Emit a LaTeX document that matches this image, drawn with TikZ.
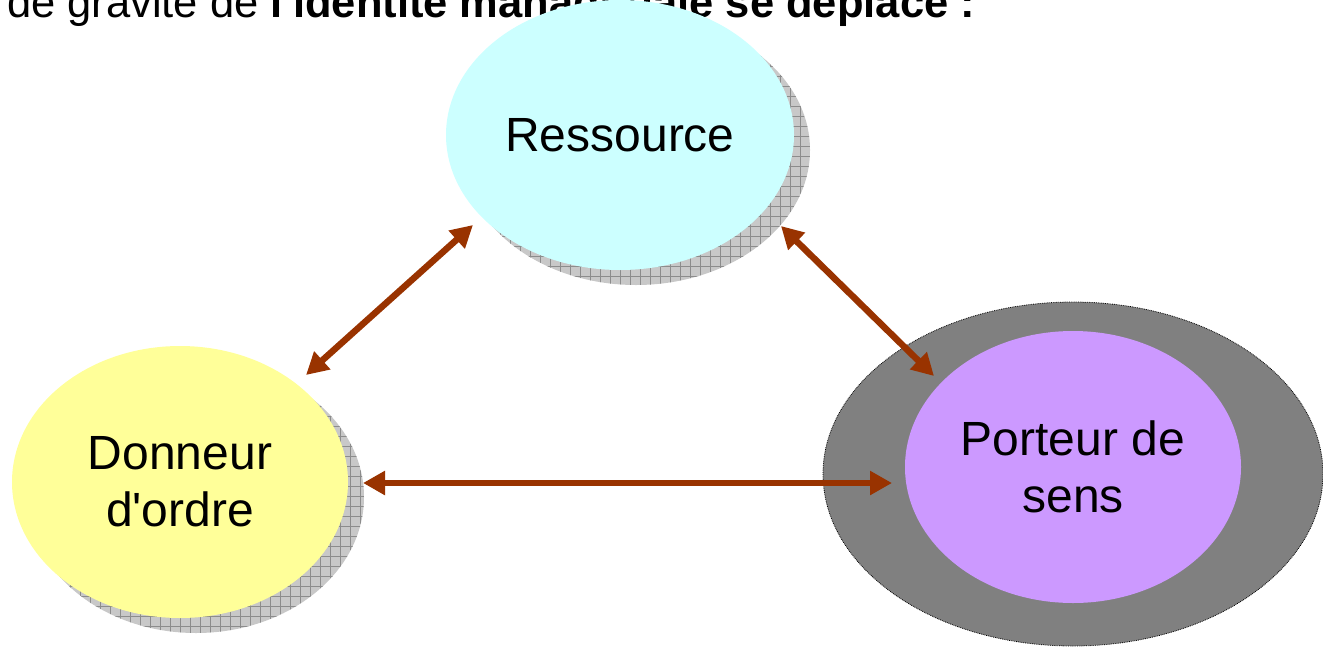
\documentclass[tikz,border=0pt]{standalone}
\usepackage{fontspec}
\setmainfont{Liberation Sans}
\usetikzlibrary{arrows.meta,patterns.meta,shapes.geometric}
\definecolor{rescol}{HTML}{CCFFFF}
\definecolor{doncol}{HTML}{FFFF99}
\definecolor{porcol}{HTML}{CC99FF}
\definecolor{outcol}{HTML}{808080}
\definecolor{arrcol}{HTML}{993300}
\definecolor{shadcol}{HTML}{C8C8C8}
\definecolor{gridcol}{HTML}{8C8C8C}
\tikzset{
  bubble/.style={ellipse, inner sep=0pt, align=center, font=\fontsize{48}{57}\selectfont},
  shadowfill/.style={fill=shadcol},
  shadowgrid/.style={pattern={Hatch[angle=0,distance=10pt,line width=0.6pt]}, pattern color=gridcol},
  link/.style={draw=arrcol, line width=6.5pt, {Triangle[length=22pt,width=23pt]}-{Triangle[length=22pt,width=23pt]}}
}
\begin{document}
\begin{tikzpicture}[x=1pt,y=-1pt]
\useasboundingbox (0,0) rectangle (1323,646);
\fill[white] (0,0) rectangle (1323,646);
% header text, partly hidden
\node[anchor=base west, inner sep=0pt, font=\fontsize{43.5}{50}\selectfont] (head) at (7,17) {de gravité de \textbf{l\textquotesingle identité managériale se déplace :}};
% shadows
\fill[shadowfill] (636,150) ellipse [x radius=174, y radius=135];
\fill[shadowgrid] (636,150) ellipse [x radius=174, y radius=135];
\fill[shadowfill] (196,497) ellipse [x radius=168, y radius=136];
\fill[shadowgrid] (196,497) ellipse [x radius=168, y radius=136];
% outer ellipse of Porteur
\draw[fill=outcol, draw=black, densely dotted, line width=0.8pt] (1073,474) ellipse [x radius=250, y radius=172];
% nodes
\node[bubble, fill=rescol, minimum width=348pt, minimum height=270pt] (res) at (620,135) {Ressource};
\node[bubble, fill=doncol, minimum width=336pt, minimum height=272pt] (don) at (180,482) {Donneur\\d\textquotesingle ordre};
\node[bubble, fill=porcol, minimum width=336pt, minimum height=272pt] (por) at (1073,467) {Porteur de\\sens};
% arrow tips
\coordinate (a1) at (306,375);
\coordinate (a2) at (473,225);
\coordinate (b1) at (781,226);
\coordinate (b2) at (934,376);
\coordinate (c1) at (363,483);
\coordinate (c2) at (892,483);
\draw[link] (a1) -- (a2);
\draw[link] (b1) -- (b2);
\draw[link] (c1) -- (c2);
\end{tikzpicture}
\end{document}
